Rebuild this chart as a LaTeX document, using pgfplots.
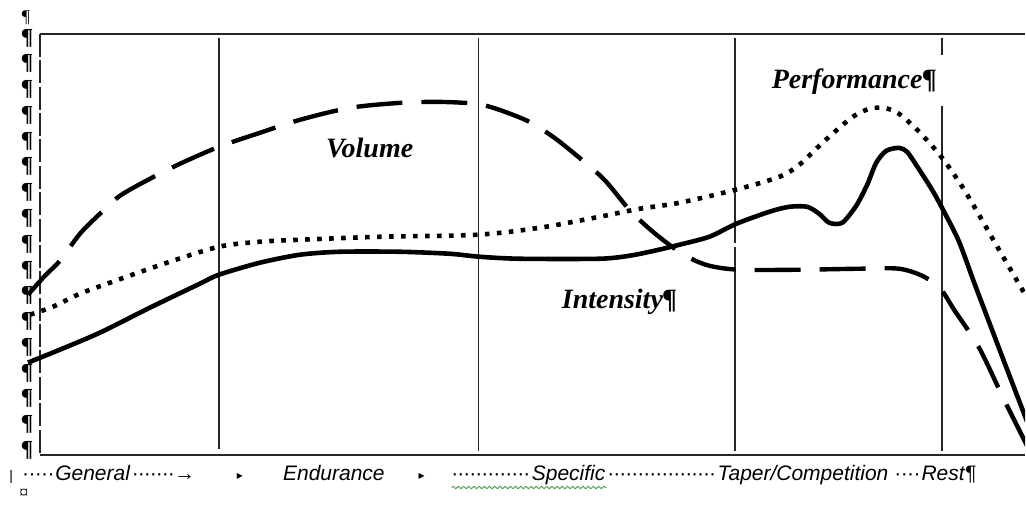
\documentclass[border=0pt]{standalone}
\usepackage{fontspec}
\setmainfont{Liberation Serif}
\newfontfamily\arialf{Liberation Sans}
\newfontfamily\dejavu{DejaVu Sans}
\usepackage{pgfplots}
\pgfplotsset{compat=1.18}
\usetikzlibrary{decorations.pathmorphing}
\definecolor{wavy}{RGB}{70,160,70}
\newcommand{\mydots}[1]{\hbox to #1{\xleaders\hbox to 3pt{\hss·\hss}\hfil}}
\begin{document}
\begin{tikzpicture}
\begin{axis}[width=513pt,height=252pt,scale only axis,
  xmin=0,xmax=1026,ymin=0,ymax=504,y dir=reverse,hide axis,
  clip mode=individual]
% frame
\draw[black!85,line width=1pt] (axis cs:40,34) -- (axis cs:1026,34);
\draw[black!85,line width=1pt] (axis cs:40,455) -- (axis cs:1026,455);
\draw[black!85,line width=0.9pt,dash pattern=on 11.5pt off 1.7pt] (axis cs:40,34) -- (axis cs:40,455);
% phase separators
\draw[black!85,line width=0.8pt] (axis cs:219,38) -- (axis cs:219,449);
\draw[black!85,line width=0.8pt] (axis cs:479,38) -- (axis cs:479,451);
\draw[black!85,line width=0.8pt] (axis cs:736,38) -- (axis cs:736,243);
\draw[black!85,line width=0.8pt] (axis cs:736,247) -- (axis cs:736,451);
\draw[black!85,line width=0.8pt] (axis cs:943,38) -- (axis cs:943,55);
\draw[black!85,line width=0.8pt] (axis cs:943,106) -- (axis cs:943,451);
% Volume (dashed)
\addplot[black,line width=2.2pt,dash pattern=on 23pt off 9.5pt,smooth,tension=0.5] coordinates {
(28,295) (45,276) (60,261) (80,234) (100,214) (120,196) (150,179) (180,164)
(219,147) (260,133) (300,120) (350,108) (400,103) (440,102) (477,104) (500,110)
(530,122) (555,138) (580,158) (605,180) (630,210) (650,229) (670,245) (690,258)
(710,266) (740,270) (800,270) (860,269) (900,269) (925,277) (942,290) (955,310)
(980,348) (1005,400) (1035,460)};
% Performance (dotted)
\addplot[black,line width=2.3pt,dash pattern=on 2.3pt off 3.7pt,line cap=butt,smooth,tension=0.5] coordinates {
(30,315) (53,307) (80,294) (110,283) (167,263) (219,247) (260,242) (300,240)
(380,237) (477,235) (540,228) (600,217) (640,209) (680,203) (736,190) (780,177)
(800,165) (820,146) (840,128) (855,116) (870,109) (885,108) (900,114) (920,132)
(943,158) (967,193) (1000,250) (1035,310)};
% Intensity (solid)
\addplot[black,line width=2.3pt,smooth,tension=0.45] coordinates {
(28,363) (60,350) (100,333) (150,308) (200,284) (219,275) (260,263) (300,255)
(340,252) (400,252) (450,254) (480,257) (520,259) (600,259) (630,256) (655,251) (680,245)
(710,237) (737,224) (770,212) (790,207) (808,207) (820,214) (830,223) (843,223)
(857,206) (868,185) (877,163) (887,151) (900,148) (908,152) (917,165) (933,190)
(945,212) (960,242) (977,288) (1007,367) (1035,440)};
% curve labels
\node[font=\fontsize{14}{16}\selectfont\bfseries\itshape] at (axis cs:370,148) {Volume};
\node[font=\fontsize{14}{16}\selectfont\bfseries\itshape] at (axis cs:620,302) {Intensity¶};
\node[font=\fontsize{14}{16}\selectfont\bfseries\itshape] at (axis cs:855,82) {Performance¶};
% paragraph marks column
\pgfplotsinvokeforeach{0,...,16}{
  \node[font=\fontsize{11.5}{12}\selectfont\bfseries] at (axis cs:27,{38+25.8*#1}) {¶};
}
\node[font=\fontsize{9}{10}\selectfont] at (axis cs:26,18) {¶};
\node[font=\fontsize{9}{10}\selectfont] at (axis cs:24,494) {¤};
% phase labels
\draw[wavy,line width=0.45pt,decorate,decoration={snake,amplitude=0.6pt,segment length=2.6pt}] (axis cs:452,488) -- (axis cs:607,488);
\node[anchor=base west,inner sep=0pt,font=\arialf\fontsize{7}{8}\selectfont] at (axis cs:9,481) {|};
\node[anchor=base west,inner sep=0pt,font=\arialf\fontsize{10.5}{12}\selectfont] at (axis cs:22,481) {\mydots{16pt}};
\node[anchor=base west,inner sep=0pt,font=\arialf\itshape\fontsize{10.5}{12}\selectfont] at (axis cs:55,481) {General};
\node[anchor=base west,inner sep=0pt,font=\arialf\fontsize{10.5}{12}\selectfont] at (axis cs:132,481) {\mydots{21pt}→};
\node[inner sep=0pt,font=\dejavu\fontsize{6}{7}\selectfont] at (axis cs:240,477) {▸};
\node[anchor=base west,inner sep=0pt,font=\arialf\itshape\fontsize{10.5}{12}\selectfont] at (axis cs:283,481) {Endurance};
\node[inner sep=0pt,font=\dejavu\fontsize{6}{7}\selectfont] at (axis cs:422,477) {▸};
\node[anchor=base west,inner sep=0pt,font=\arialf\fontsize{10.5}{12}\selectfont] at (axis cs:452,481) {\mydots{39pt}};
\node[anchor=base west,inner sep=0pt,font=\arialf\itshape\fontsize{10.5}{12}\selectfont] at (axis cs:532,481) {Specific};
\node[anchor=base west,inner sep=0pt,font=\arialf\fontsize{10.5}{12}\selectfont] at (axis cs:608,481) {\mydots{54pt}};
\node[anchor=base west,inner sep=0pt,font=\arialf\itshape\fontsize{10.5}{12}\selectfont] at (axis cs:718,481) {Taper/Competition};
\node[anchor=base west,inner sep=0pt,font=\arialf\fontsize{10.5}{12}\selectfont] at (axis cs:895,481) {\mydots{13pt}};
\node[anchor=base west,inner sep=0pt,font=\arialf\itshape\fontsize{10.5}{12}\selectfont] at (axis cs:922,481) {Rest¶};
\end{axis}
\path (current axis.south west) rectangle (current axis.north east);
\end{tikzpicture}
\end{document}
